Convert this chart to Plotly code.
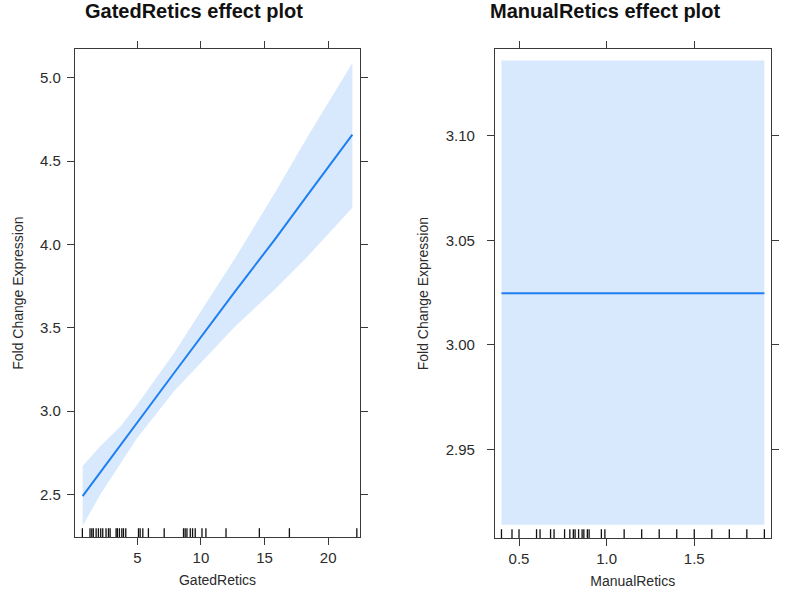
import plotly.graph_objects as go

# ---------------- data ----------------
gated_x = [0.7, 2.1, 3.7, 5.0, 7.9, 12.7, 15.8, 18.4, 21.9]
gated_fit = [2.49, 2.635, 2.80, 2.93, 3.23, 3.72, 4.03, 4.30, 4.66]
gated_upper = [2.67, 2.79, 2.91, 3.04, 3.35, 3.92, 4.31, 4.65, 5.09]
gated_lower = [2.31, 2.50, 2.69, 2.84, 3.12, 3.51, 3.73, 3.93, 4.22]
gated_rug = [0.68, 1.28, 1.42, 1.54, 1.76, 1.94, 2.12, 2.28, 2.54, 2.73, 2.86,
             3.33, 3.43, 3.59, 3.78, 3.91, 4.09, 5.09, 5.22, 5.43, 5.87, 7.11,
             8.63, 8.76, 8.9, 9.16, 9.34, 9.55, 10.08, 10.39, 11.97, 14.59,
             16.95, 22.25]

manual_x = [0.4, 1.9]
manual_fit = [3.0247, 3.0247]
manual_upper = [3.136, 3.136]
manual_lower = [2.914, 2.914]
manual_rug = [0.4, 0.46, 0.5, 0.6, 0.62, 0.68, 0.7, 0.76, 0.79, 0.81, 0.82,
              0.84, 0.86, 0.87, 0.89, 0.9, 0.97, 0.99, 1.1, 1.2, 1.3, 1.4,
              1.5, 1.6, 1.7, 1.8, 1.9]

gated_xticks = [5, 10, 15, 20]
gated_yticks = [2.5, 3.0, 3.5, 4.0, 4.5, 5.0]
manual_xticks = [0.5, 1.0, 1.5]
manual_yticks = [2.95, 3.00, 3.05, 3.10]

titles = ["GatedRetics effect plot", "ManualRetics effect plot"]
xtitles = ["GatedRetics", "ManualRetics"]
ytitle = "Fold Change Expression"

# ---------------- style ----------------
W, H = 787, 599
LINE = "#1f7ef0"
BAND = "#d8e9fd"
AX = "#3a3a3a"
FONT = "Liberation Sans, Arial, sans-serif"
TXT = "#2b2b2b"

fig = go.Figure()

def add_panel(xs, fit, up, lo, xa, ya):
    fig.add_trace(go.Scatter(
        x=list(xs) + list(xs)[::-1], y=list(up) + list(lo)[::-1],
        fill="toself", fillcolor=BAND, line=dict(width=0),
        mode="lines", hoverinfo="skip", showlegend=False,
        xaxis=xa, yaxis=ya))
    fig.add_trace(go.Scatter(
        x=xs, y=fit, mode="lines", line=dict(color=LINE, width=2),
        showlegend=False, xaxis=xa, yaxis=ya))

add_panel(gated_x, gated_fit, gated_upper, gated_lower, "x", "y")
add_panel(manual_x, manual_fit, manual_upper, manual_lower, "x2", "y2")

shapes = []
for v in gated_rug:
    shapes.append(dict(type="line", xref="x", yref="y domain", x0=v, x1=v,
                       y0=0, y1=0.018, line=dict(color="#111", width=1.3)))
for v in manual_rug:
    shapes.append(dict(type="line", xref="x2", yref="y2 domain", x0=v, x1=v,
                       y0=0, y1=0.018, line=dict(color="#111", width=1.3)))

def px_x(a, b):
    return [a / W, b / W]

def px_y(top, bot):
    return [(H - bot) / H, (H - top) / H]

axis_common = dict(showline=True, linecolor=AX, linewidth=1.2, mirror="ticks",
                   ticks="outside", ticklen=7, tickwidth=1.2, tickcolor=AX,
                   showgrid=False, zeroline=False,
                   tickfont=dict(family=FONT, size=15, color=TXT))
tfont = dict(family=FONT, size=14, color=TXT)

fig.update_layout(
    width=W, height=H,
    margin=dict(l=0, r=0, t=0, b=0),
    paper_bgcolor="white", plot_bgcolor="white",
    shapes=shapes,
    xaxis=dict(domain=px_x(75, 360), range=[0.1, 22.5], anchor="y",
               tickvals=gated_xticks,
               title=dict(text=xtitles[0], font=tfont, standoff=10),
               **axis_common),
    yaxis=dict(domain=px_y(49.3, 537), range=[2.244, 5.172], anchor="x",
               tickvals=gated_yticks, tickformat=".1f", ticklabelstandoff=3,
               title=dict(text=ytitle, font=tfont, standoff=13),
               **axis_common),
    xaxis2=dict(domain=px_x(495, 770.5), range=[0.363, 1.935], anchor="y2",
                tickvals=manual_xticks, tickformat=".1f",
                title=dict(text=xtitles[1], font=tfont, standoff=10),
                **axis_common),
    yaxis2=dict(domain=px_y(49.3, 538), range=[2.9077, 3.1413], anchor="x2",
                tickvals=manual_yticks, tickformat=".2f", ticklabelstandoff=9,
                title=dict(text=ytitle, font=tfont, standoff=13),
                **axis_common),
    annotations=[
        dict(text="<b>%s</b>" % titles[0], x=194 / W, y=1 - 11 / H, xref="paper", yref="paper",
             showarrow=False, xanchor="center", yanchor="middle",
             font=dict(family=FONT, size=20, color="#111")),
        dict(text="<b>%s</b>" % titles[1], x=605 / W, y=1 - 11 / H, xref="paper", yref="paper",
             showarrow=False, xanchor="center", yanchor="middle",
             font=dict(family=FONT, size=20, color="#111")),
    ],
)

fig.write_html("out.html", post_script="document.body.style.margin='0';",
               config={"displayModeBar": False})
